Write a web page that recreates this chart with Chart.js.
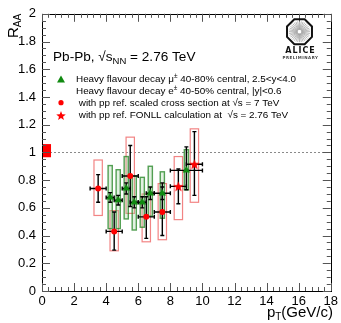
<!doctype html>
<html>
<head>
<meta charset="UTF-8"/>
<title>RAA</title>
<style>
  body { margin: 0; background: #fff; }
  canvas { display: block; }
</style>
</head>
<body>
<canvas id="myChart" width="341" height="323"></canvas>
<script src="https://cdn.jsdelivr.net/npm/chart.js"></script>
<script>
// muons 40-80%, 2.5<y<4
const muX    = [4.25, 4.75, 5.25, 5.75, 6.25, 6.75, 7.5, 9.0];
const muXerr = [0.25, 0.25, 0.25, 0.25, 0.25, 0.25, 0.5, 1.0];
const muY    = [0.675, 0.655, 0.74, 0.64, 0.64, 0.705, 0.705, 0.87];
const muStatLo = [0.64, 0.62, 0.70, 0.60, 0.60, 0.66, 0.66, 0.73];
const muStatHi = [0.71, 0.69, 0.78, 0.68, 0.68, 0.75, 0.75, 1.04];
const muSysLo  = [0.45, 0.45, 0.52, 0.44, 0.46, 0.54, 0.525, 0.73];
const muSysHi  = [0.905, 0.875, 0.97, 0.83, 0.82, 0.90, 0.86, 1.02];

// electrons 40-50%, pp ref scaled from 7 TeV
const elX    = [3.5, 4.5, 5.5, 6.5, 7.5];
const elXerr = [0.5, 0.5, 0.5, 0.5, 0.5];
const elY    = [0.74, 0.43, 0.83, 0.535, 0.57];
const elStatLo = [0.64, 0.295, 0.61, 0.38, 0.40];
const elStatHi = [0.84, 0.57, 1.05, 0.68, 0.78];
const elSysLo  = [0.545, 0.29, 0.56, 0.355, 0.37];
const elSysHi  = [0.945, 0.58, 1.11, 0.70, 0.775];

// electrons, pp ref FONLL at 2.76 TeV
const fnX    = [8.5, 9.5];
const fnXerr = [0.5, 0.5];
const fnY    = [0.755, 0.915];
const fnStatLo = [0.63, 0.69];
const fnStatHi = [0.88, 1.15];
const fnSysLo  = [0.515, 0.64];
const fnSysHi  = [0.97, 1.17];

// normalisation uncertainty at RAA = 1
const normBox = [0, 0.5, 0.965, 1.06];

const xTicks = [0, 2, 4, 6, 8, 10, 12, 14, 16, 18];
const yTicks = [0, 0.2, 0.4, 0.6, 0.8, 1, 1.2, 1.4, 1.6, 1.8, 2];

const FONT = '"Liberation Sans", Arial, Helvetica, sans-serif';
const RED = '#ff0000';
const GREEN = '#118a11';

function starPath(ctx, x, y, r) {
    ctx.beginPath();
    for (let i = 0; i < 10; i++) {
        const rr = i % 2 === 0 ? r : r * 0.42;
        const a = -Math.PI / 2 + i * Math.PI / 5;
        const px = x + rr * Math.cos(a), py = y + rr * Math.sin(a);
        if (i === 0) ctx.moveTo(px, py); else ctx.lineTo(px, py);
    }
    ctx.closePath();
}

function makeStar(r) {
    const c = document.createElement('canvas');
    c.width = c.height = Math.ceil(2 * r + 2);
    const g = c.getContext('2d');
    g.fillStyle = RED;
    starPath(g, c.width / 2, c.height / 2 + 0.5, r);
    g.fill();
    return c;
}

function pts(xs, ys) {
    return xs.map((x, i) => ({x: x, y: ys[i]}));
}

// draws text pieces one after another: [text, size, dy]
function rich(ctx, parts, x, y) {
    parts.forEach(p => {
        ctx.font = p[1] + 'px ' + FONT;
        ctx.fillText(p[0], x, y + (p[2] || 0));
        x += ctx.measureText(p[0]).width;
    });
}

const rootPlugin = {
    id: 'rootStyle',
    beforeDatasetsDraw(chart) {
        const ctx = chart.ctx;
        const xs = chart.scales.x, ys = chart.scales.y;
        const X = v => xs.getPixelForValue(v);
        const Y = v => ys.getPixelForValue(v);
        ctx.save();

        // dotted line at 1
        ctx.strokeStyle = '#8a8a8a';
        ctx.lineWidth = 1;
        ctx.setLineDash([2, 2]);
        ctx.beginPath();
        ctx.moveTo(X(0), Math.round(Y(1)) + 0.5);
        ctx.lineTo(X(18), Math.round(Y(1)) + 0.5);
        ctx.stroke();
        ctx.setLineDash([]);

        // normalisation box
        ctx.fillStyle = RED;
        ctx.fillRect(X(normBox[0]) + 1, Y(normBox[3]), X(normBox[1]) - X(normBox[0]), Y(normBox[2]) - Y(normBox[3]));

        // systematic boxes
        function boxes(xv, lo, hi, hw, stroke, fill, lw) {
            ctx.lineWidth = lw;
            ctx.strokeStyle = stroke;
            ctx.fillStyle = fill;
            xv.forEach((x, i) => {
                const x0 = X(x - hw), x1 = X(x + hw);
                const y0 = Y(hi[i]), y1 = Y(lo[i]);
                if (fill) ctx.fillRect(x0, y0, x1 - x0, y1 - y0);
                ctx.strokeRect(x0, y0, x1 - x0, y1 - y0);
            });
        }
        boxes(elX, elSysLo, elSysHi, 0.26, 'rgba(240,110,110,0.85)', null, 1.2);
        boxes(fnX, fnSysLo, fnSysHi, 0.26, 'rgba(240,110,110,0.85)', null, 1.2);
        boxes(muX, muSysLo, muSysHi, 0.13, 'rgba(30,130,30,0.75)', 'rgba(160,210,160,0.3)', 1.4);

        // error bars
        function bars(xv, xe, lo, hi, yv) {
            ctx.strokeStyle = '#000';
            ctx.lineWidth = 1.4;
            xv.forEach((x, i) => {
                const px = X(x), py = Y(yv[i]);
                const x0 = X(x - xe[i]), x1 = X(x + xe[i]);
                const y0 = Y(hi[i]), y1 = Y(lo[i]);
                ctx.beginPath();
                ctx.moveTo(x0, py); ctx.lineTo(x1, py);
                ctx.moveTo(px, y0); ctx.lineTo(px, y1);
                ctx.moveTo(x0, py - 2); ctx.lineTo(x0, py + 2);
                ctx.moveTo(x1, py - 2); ctx.lineTo(x1, py + 2);
                ctx.moveTo(px - 2, y0); ctx.lineTo(px + 2, y0);
                ctx.moveTo(px - 2, y1); ctx.lineTo(px + 2, y1);
                ctx.stroke();
            });
        }
        bars(elX, elXerr, elStatLo, elStatHi, elY);
        bars(fnX, fnXerr, fnStatLo, fnStatHi, fnY);
        bars(muX, muXerr, muStatLo, muStatHi, muY);
        ctx.restore();
    },
    afterDraw(chart) {
        const ctx = chart.ctx;
        const a = chart.chartArea;
        const xs = chart.scales.x, ys = chart.scales.y;
        ctx.save();

        // frame
        ctx.strokeStyle = '#000';
        ctx.lineWidth = 1;
        ctx.strokeRect(Math.round(a.left) + 0.5, Math.round(a.top) + 0.5, Math.round(a.right - a.left), Math.round(a.bottom - a.top));

        // inside ticks on all sides
        ctx.strokeStyle = '#555';
        ctx.beginPath();
        for (let v = 0; v <= 18.001; v += 0.4) {
            const major = Math.abs(v / 2 - Math.round(v / 2)) < 1e-6;
            const len = major ? 8 : 4;
            const px = Math.round(xs.getPixelForValue(v)) + 0.5;
            ctx.moveTo(px, a.bottom); ctx.lineTo(px, a.bottom - len);
            ctx.moveTo(px, a.top); ctx.lineTo(px, a.top + len);
        }
        for (let v = 0; v <= 2.0001; v += 0.05) {
            const major = Math.abs(v / 0.2 - Math.round(v / 0.2)) < 1e-6;
            const len = major ? 8 : 4;
            const py = Math.round(ys.getPixelForValue(v)) + 0.5;
            ctx.moveTo(a.left, py); ctx.lineTo(a.left + len, py);
            ctx.moveTo(a.right, py); ctx.lineTo(a.right - len, py);
        }
        ctx.stroke();

        // axis titles
        ctx.fillStyle = '#000';
        ctx.textBaseline = 'alphabetic';
        ctx.textAlign = 'left';
        ctx.save();
        ctx.translate(18, 38);
        ctx.rotate(-Math.PI / 2);
        rich(ctx, [['R', 15], ['AA', 10, 3]], 0, 0);
        ctx.restore();

        ctx.font = '15px ' + FONT;
        const gw = ctx.measureText('(GeV/c)').width;
        ctx.font = '10px ' + FONT;
        const tw = ctx.measureText('T').width;
        ctx.font = '15px ' + FONT;
        const pw = ctx.measureText('p').width;
        rich(ctx, [['p', 15], ['T', 10, 3], ['(GeV/c)', 15]], 333 - gw - tw - pw, 317);

        // collision system
        rich(ctx, [['Pb-Pb, \u221As', 13.6], ['NN', 9.5, 3], [' = 2.76 TeV', 13.6]], 53, 61);

        // legend
        const fs = 9.9;
        rich(ctx, [['Heavy flavour decay \u03BC', fs], ['\u00B1', 6.5, -4], [' 40-80% central, 2.5<y<4.0', fs]], 76, 82);
        rich(ctx, [['Heavy flavour decay e', fs], ['\u00B1', 6.5, -4], [' 40-50% central, |y|<0.6', fs]], 76, 94);
        rich(ctx, [[' with pp ref. scaled cross section at \u221As = 7 TeV', fs]], 76, 106);
        rich(ctx, [[' with pp ref. FONLL calculation at  \u221As = 2.76 TeV', fs]], 76, 118);

        ctx.fillStyle = GREEN;
        ctx.beginPath();
        ctx.moveTo(61, 75.5); ctx.lineTo(65, 82.5); ctx.lineTo(57, 82.5);
        ctx.closePath(); ctx.fill();
        ctx.fillStyle = RED;
        ctx.beginPath();
        ctx.arc(61, 102.7, 2.6, 0, Math.PI * 2);
        ctx.fill();
        starPath(ctx, 61, 116, 5);
        ctx.fill();

        // ALICE logo
        const cx = 299.5, cy = 31.7, R = 13.5;
        ctx.strokeStyle = '#9a9a9a';
        ctx.lineWidth = 0.7;
        ctx.beginPath();
        for (let i = 0; i < 36; i++) {
            const ang = i * Math.PI / 18;
            ctx.moveTo(cx + 2 * Math.cos(ang), cy + 2 * Math.sin(ang));
            ctx.lineTo(cx + (R - 3) * Math.cos(ang), cy + (R - 3) * Math.sin(ang));
        }
        ctx.stroke();
        ctx.strokeStyle = '#111';
        ctx.lineWidth = 2;
        ctx.beginPath();
        for (let i = 0; i < 8; i++) {
            const ang = Math.PI / 8 + i * Math.PI / 4;
            const px = cx + R * Math.cos(ang), py = cy + R * Math.sin(ang);
            if (i === 0) ctx.moveTo(px, py); else ctx.lineTo(px, py);
        }
        ctx.closePath();
        ctx.stroke();
        ctx.fillStyle = '#111';
        ctx.textAlign = 'center';
        ctx.font = 'bold 8px "DejaVu Sans", sans-serif';
        ctx.letterSpacing = '1px';
        ctx.fillText('ALICE', cx + 1, 53);
        ctx.font = 'bold 4px "DejaVu Sans", sans-serif';
        ctx.letterSpacing = '0.5px';
        ctx.fillStyle = '#444';
        ctx.fillText('PRELIMINARY', cx + 1, 59);
        ctx.restore();
    }
};

const config = {
    type: 'scatter',
    data: {
        datasets: [
            {
                label: 'mu',
                data: pts(muX, muY),
                pointStyle: 'triangle',
                pointRadius: 4.3,
                backgroundColor: GREEN,
                borderColor: GREEN,
                borderWidth: 0
            },
            {
                label: 'e 7 TeV',
                data: pts(elX, elY),
                pointStyle: 'circle',
                pointRadius: 3,
                backgroundColor: RED,
                borderColor: RED,
                borderWidth: 0
            },
            {
                label: 'e FONLL',
                data: pts(fnX, fnY),
                pointStyle: makeStar(5.5),
                backgroundColor: RED,
                borderColor: RED
            }
        ]
    },
    options: {
        responsive: false,
        animation: false,
        devicePixelRatio: 1,
        layout: { padding: { top: 13, right: 8, left: 0, bottom: 0 } },
        plugins: { legend: { display: false }, tooltip: { enabled: false } },
        scales: {
            x: {
                type: 'linear',
                min: 0,
                max: 18,
                afterBuildTicks: s => { s.ticks = xTicks.map(v => ({value: v})); },
                afterFit: s => { s.height = 32; },
                ticks: {
                    color: '#000',
                    font: { family: FONT, size: 13 },
                    padding: 3,
                    maxRotation: 0,
                    autoSkip: false
                },
                grid: { display: false, drawTicks: false },
                border: { display: false }
            },
            y: {
                type: 'linear',
                min: 0,
                max: 2,
                afterBuildTicks: s => { s.ticks = yTicks.map(v => ({value: v})); },
                afterFit: s => { s.width = 42; },
                ticks: {
                    color: '#000',
                    font: { family: FONT, size: 13 },
                    padding: 6,
                    autoSkip: false,
                    callback: v => String(+v.toFixed(1))
                },
                grid: { display: false, drawTicks: false },
                border: { display: false }
            }
        }
    },
    plugins: [rootPlugin]
};

const myChart = new Chart(document.getElementById('myChart'), config);
</script>
</body>
</html>
